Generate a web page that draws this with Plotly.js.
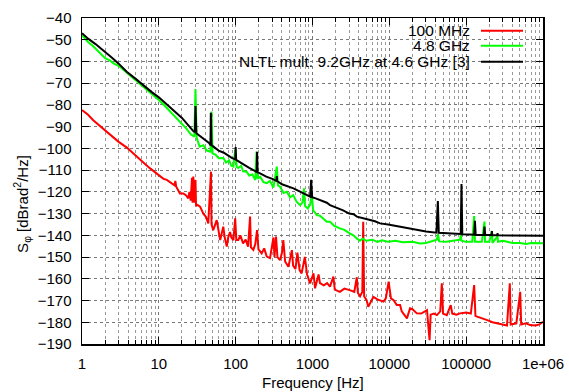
<!DOCTYPE html>
<html>
<head>
<meta charset="utf-8">
<script src="https://cdn.plot.ly/plotly-3.0.1.min.js"></script>
<style>html,body{margin:0;padding:0;background:#fff;}#chart{width:569px;height:392px;}</style>
</head>
<body>
<div id="chart"></div>
<script>
// ---- Data ----
const seriesNames = ["100 MHz", "4.8 GHz", "NLTL mult. 9.2GHz at 4.6 GHz [3]"];
const seriesColors = ["#ff0000", "#00ff00", "#000000"];

const redFreq = [1,1.2,1.4,1.7,2,2.5,3,3.8,4.5,5.5,6.5,7.7,9,10.4,11.5,12.7,14,16,16.4,16.8,18.8,20.8,22.5,24.2,25,26,27,27.5,28.1,29,30,30.5,32,34.4,38,41,44,47.7,48.5,51,56.7,60,62.9,69,72,76.6,80,84.4,88,93.5,98.5,102,108,115,125,135,145,154,158,170,180,190,198,218,235,254,280,310,320,335,350,378,400,417,440,486,510,539,560,600,636,680,722,760,795,850,930,1030,1080,1150,1200,1250,1400,1550,1690,1870,1950,2270,2600,3050,3500,3770,3900,4160,4450,4570,4700,5060,5320,6200,7000,8400,9000,9790,10500,11380,12500,13800,14500,16950,18600,20000,22800,26000,30900,33400,34500,38000,41600,46000,48200,50000,56000,63000,66000,75000,83000,100000,115000,127000,132000,139000,160000,188000,220000,250000,300000,340000,370000,380000,450000,505000,520000,600000,680000,800000,900000,1000000];
const redVal = [-82.3,-84.5,-87,-89.5,-91.5,-94.5,-97,-99.5,-102,-104.5,-107,-109.2,-111,-113,-114,-114.5,-115.5,-117,-115,-117.5,-120.7,-120.7,-121.5,-123,-120,-124,-113.5,-125,-113,-125,-114.5,-126.5,-126,-126.8,-130,-131.5,-134.5,-110.7,-135,-137.6,-133,-139,-142.2,-136,-141,-145.2,-141,-138.5,-141,-142.2,-132.2,-142.2,-142.2,-140,-143.7,-142,-145.2,-131.4,-145.5,-146.7,-144,-137.6,-146.5,-148.3,-146,-149.8,-150.5,-141,-150,-140.6,-150,-151.4,-148,-142.2,-152,-154.5,-151,-146.8,-154,-155.5,-148,-156,-157.5,-154,-149.9,-158,-162.1,-157.5,-164.4,-160.5,-158,-162,-163,-162,-163.6,-159,-165,-166,-164.5,-165.2,-166,-159.3,-166.5,-168,-166,-133.7,-168,-169.8,-172.9,-168.3,-169.5,-170.5,-169,-161.3,-169,-169.8,-172.1,-172.1,-175,-178.2,-173.6,-174,-175.9,-176,-174.4,-188.2,-176.5,-176,-176.7,-175,-162.1,-176,-176.7,-172.1,-176,-176.5,-175.9,-175.5,-176,-162.9,-177,-177.4,-178,-179,-180,-180.5,-181,-181.5,-162.1,-181,-180.5,-166,-181,-180.5,-181.3,-181.5,-181,-179.8];

const greenFreq = [1,1.2,1.4,1.6,1.8,2,2.3,2.6,3,3.5,4,5,6,7,8,9,10,12,14,16,18,20,23,26,29,30,31,34,38,42,47,48.5,50,55,60,69,75,82,88,93.5,98.5,103,108,118,125,139,150,165,180,187,192,208,230,254,280,310,343,355,378,420,463,510,562,620,690,740,775,800,870,930,980,1020,1140,1250,1400,1535,1690,1900,2270,2600,3050,3400,3770,4130,4500,5000,6000,7000,8000,9640,12000,15000,20000,25000,30000,35000,41500,43000,44500,55000,70000,83000,85000,87000,100000,120000,127000,130000,160000,173000,176000,200000,216000,220000,256000,260000,300000,350000,400000,500000,600000,700000,800000,1000000];
const greenVal = [-48,-51,-53,-55,-57,-58.5,-59.5,-61,-62,-64,-66,-68.5,-71,-73,-75,-76.5,-77.7,-80.5,-83,-85,-87,-88.5,-91,-93.5,-94.6,-72.7,-95,-99.2,-98.5,-101,-101.5,-83,-102.3,-103,-104.5,-104.4,-106.5,-105.5,-108,-108.4,-100.7,-108.5,-109,-108,-110.5,-110.7,-112.5,-112,-114.5,-101.5,-114,-113,-115.5,-116,-115,-118,-108.4,-117,-117.6,-120.5,-119.9,-122.5,-121.5,-124.5,-126.1,-125,-118.4,-126.5,-127.6,-126,-121.5,-128.5,-130.7,-131,-132.5,-133.7,-133.7,-135.5,-136.8,-137.5,-139.1,-140,-141.4,-142.5,-141.5,-142.5,-142,-143,-142.3,-143,-142.5,-143.2,-143,-143.8,-143.5,-142.8,-142,-139.5,-142.8,-143,-142.5,-142,-140,-142.5,-143,-143,-131.1,-143,-143,-133.7,-143,-143,-138,-143.5,-140.5,-143,-142.5,-143,-143.5,-143.5,-144,-143.5,-143.5,-143.7];

const blackFreq = [1,1.2,1.5,2,2.5,3,3.82,5,6,7,8,10,12,15,18,20,23,26,28,29.5,30,30.8,35,40,45,47,47.5,48.5,55,60,70,80,90,99,100,101.5,120,150,180,188,190,193,208,250,300,340,343,347,400,480,565,700,800,930,960,990,1100,1300,1535,1690,2000,2500,3000,3430,3775,4300,5000,6500,7580,9640,13800,16900,20000,30000,41000,42800,44000,60000,85000,86900,89000,110000,127000,130000,133000,170000,173000,177000,214000,216000,219000,254000,256000,259000,400000,1000000];
const blackVal = [-47,-49.5,-52,-55.5,-58.5,-61,-64.7,-68,-70.5,-72.5,-74,-76.5,-79,-82,-84.5,-86,-88.5,-91,-92,-92.5,-80.5,-93,-94.5,-96.5,-97.5,-98.5,-83.6,-98.5,-100,-101,-102,-103.5,-104.5,-105,-99.4,-105.3,-107,-109,-110.5,-111,-101.5,-111,-111.5,-113,-114,-115,-112.7,-115,-116.5,-117.5,-118.4,-120,-121,-122.2,-114.5,-122.5,-123,-124,-125,-126.1,-127,-128.5,-130,-130.3,-131.4,-131.8,-132.5,-133.5,-134.5,-135,-136,-136.8,-137,-138.2,-138.8,-124.2,-138.8,-139.2,-139.4,-116.4,-139.5,-139.6,-139.7,-133.3,-139.8,-139.8,-136,-139.9,-139.9,-138,-140,-140,-139,-140,-140.1,-140.2];

const xTickVals = [1,10,100,1000,10000,100000,1000000];
const xTickText = ["1","10","100","1000","10000","100000","1e+06"];

// ---- Plot ----
const FONT = "Liberation Sans, Arial, Helvetica, sans-serif";
const xs = [redFreq, greenFreq, blackFreq];
const ys = [redVal, greenVal, blackVal];
const traces = xs.map((x, i) => ({
  x: x, y: ys[i], type: "scatter", mode: "lines",
  name: seriesNames[i], showlegend: false,
  line: {color: seriesColors[i], width: 2}
}));

// legend drawn manually (text right-aligned, sample line to the right)
const legRowsY = [0.961, 0.915, 0.866];
const annotations = seriesNames.map((n, i) => ({
  xref: "paper", yref: "paper", x: 0.8416, y: legRowsY[i],
  xanchor: "right", yanchor: "middle", showarrow: false,
  borderpad: 0, borderwidth: 0,
  text: n, font: {family: FONT, size: 15.5, color: "#000"}
}));
annotations.push({
  xref: "paper", yref: "paper", x: -0.13, y: 0.43, textangle: -90,
  xanchor: "center", yanchor: "middle", showarrow: false,
  text: "S<sub>φ</sub> [dBrad<sup>2</sup>/Hz]", font: {family: FONT, size: 15, color: "#000"}
});
annotations.push({
  xref: "paper", yref: "paper", x: 0.5, y: -0.118,
  xanchor: "center", yanchor: "middle", showarrow: false,
  text: "Frequency [Hz]", font: {family: FONT, size: 15, color: "#000"}
});

const shapes = [{
  type: "rect", xref: "paper", yref: "paper", x0: 0.325, x1: 0.972, y0: 0.8436, y1: 0.994,
  fillcolor: "#ffffff", line: {width: 0}, layer: "between"
}];
seriesColors.forEach((c, i) => shapes.push({
  type: "line", xref: "paper", yref: "paper", x0: 0.8655, x1: 0.9566, y0: legRowsY[i], y1: legRowsY[i],
  line: {color: c, width: 2}, layer: "above"
}));

const layout = {
  width: 569, height: 392,
  margin: {l: 82, r: 26, t: 18, b: 48},
  paper_bgcolor: "#fff", plot_bgcolor: "#fff",
  font: {family: FONT, size: 15, color: "#000"},
  showlegend: false,
  xaxis: {
    type: "log", range: [0, 6],
    tickvals: xTickVals, ticktext: xTickText,
    ticks: "inside", ticklen: 7, tickwidth: 1, tickcolor: "#000",
    showline: true, linecolor: "#000", linewidth: 1.5, mirror: "ticks",
    showgrid: true, gridcolor: "#777", gridwidth: 1, griddash: "dot",
    zeroline: false, ticklabelstandoff: 5,
    tickfont: {family: FONT, size: 15, color: "#000"},
    minor: {dtick: "D1", ticks: "inside", ticklen: 4, tickcolor: "#000",
            showgrid: true, gridcolor: "#999", gridwidth: 1, griddash: "dot"}
  },
  yaxis: {
    range: [-190, -40], dtick: 10, tick0: -190,
    ticks: "inside", ticklen: 7, tickwidth: 1, tickcolor: "#000",
    showline: true, linecolor: "#000", linewidth: 1.5, mirror: "ticks",
    showgrid: true, gridcolor: "#777", gridwidth: 1, griddash: "dot",
    zeroline: false, ticklabelstandoff: 6,
    tickfont: {family: FONT, size: 15, color: "#000"}
  },
  annotations: annotations,
  shapes: shapes
};

Plotly.newPlot("chart", traces, layout, {displayModeBar: false, staticPlot: true});
</script>
</body>
</html>
